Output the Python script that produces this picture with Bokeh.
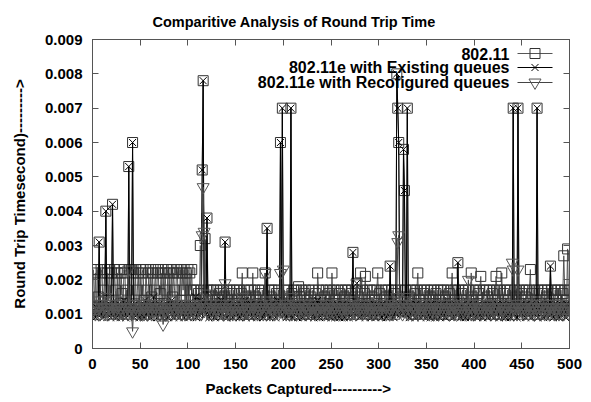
from bokeh.plotting import figure
from bokeh.models import Range1d, FixedTicker, LinearAxis, Label, Title, CustomJSTickFormatter
from bokeh.embed import file_html
from bokeh.resources import INLINE

# ---------------- data (round trip time in units of 0.1 ms) ----------------
rtt_80211_01ms = [
    23,12,22,10,23,15,31,11,23,22,12,17,23,40,11,22,14,23,10,22,42,12,23,17,11,
    22,10,23,13,22,16,11,23,22,12,17,10,53,23,11,23,60,22,13,23,10,17,22,12,23,
    11,22,23,14,10,23,17,12,22,11,23,15,22,10,17,23,12,22,23,11,16,22,10,23,13,
    22,17,11,23,12,22,10,23,15,22,17,11,23,22,12,10,23,14,22,17,23,11,22,12,23,
    10,22,17,23,12,17,11,14,17,10,16,13,30,17,52,78,12,32,15,38,17,11,13,17,10,
    15,17,12,11,17,14,10,16,17,13,11,17,15,31,12,17,10,14,17,11,16,12,17,13,10,
    17,14,11,17,12,16,22,10,17,13,15,11,17,10,14,17,12,22,11,17,15,10,13,17,12,
    16,11,17,13,10,22,14,35,11,17,12,15,17,10,13,17,11,16,12,17,14,60,13,70,12,
    17,11,15,10,17,13,12,70,16,11,17,14,10,17,12,18,15,11,17,13,10,16,17,12,14,
    11,17,10,15,12,17,13,11,16,10,22,17,12,14,11,17,10,15,13,17,12,11,16,17,10,
    22,13,17,11,14,10,17,12,16,11,17,13,10,15,17,12,11,17,14,10,16,17,28,12,11,
    17,19,10,15,13,22,12,17,11,16,21,10,17,13,12,17,11,15,10,17,14,12,17,22,11,
    16,10,17,12,13,11,17,15,10,17,12,24,13,17,11,16,10,17,80,70,60,12,17,15,11,
    58,46,17,12,70,11,15,17,10,13,17,12,16,10,17,22,11,14,17,12,10,16,17,13,11,
    17,12,10,15,17,11,13,17,10,16,12,17,14,11,17,10,13,17,12,15,11,17,10,16,13,
    17,22,11,14,17,12,10,25,17,13,11,16,17,10,12,17,14,11,17,13,10,22,15,17,12,
    11,17,13,10,16,17,21,12,14,17,11,10,17,15,12,17,13,11,16,17,10,14,21,17,12,
    10,17,13,22,11,16,17,12,10,17,14,11,17,13,10,70,12,17,15,11,70,17,13,10,16,
    17,12,11,15,17,10,13,17,23,12,16,11,17,14,10,70,17,12,13,11,17,16,10,17,12,
    15,17,11,13,24,17,10,16,12,17,14,11,17,13,10,17,12,16,27,17,11,14,29,12,17,
]
rtt_existing_01ms = [
    10,11,9,12,10,13,31,11,10,12,9,11,10,40,12,10,11,13,9,10,42,11,10,12,9,
    11,10,13,9,12,10,11,14,10,9,12,11,53,10,12,11,60,10,9,13,11,10,12,9,11,
    10,12,11,9,14,10,11,13,10,12,9,11,10,15,11,10,12,9,11,13,10,11,9,12,10,
    11,10,13,9,11,12,10,14,11,9,10,12,11,10,13,9,11,10,12,11,9,13,10,11,12,
    9,11,10,12,13,10,11,15,9,12,10,11,14,10,52,78,11,13,10,38,12,9,11,10,13,
    10,12,9,11,13,10,11,12,9,14,10,11,12,31,10,9,13,11,10,12,11,9,10,13,11,
    12,10,11,9,13,10,12,11,10,14,9,11,12,10,11,13,9,10,12,11,10,9,13,11,10,
    11,12,10,9,13,10,11,35,10,12,9,11,13,10,11,12,9,10,14,11,10,60,12,70,11,
    10,12,9,11,10,13,11,70,10,9,12,11,10,13,9,11,12,10,11,9,13,10,12,11,10,
    9,11,12,10,13,11,9,10,12,11,14,10,9,11,12,10,13,11,9,10,12,11,10,13,9,
    11,10,12,9,11,13,10,11,9,12,10,11,13,9,10,12,11,10,9,13,11,10,28,12,10,
    11,19,10,12,9,11,13,10,12,11,9,10,13,11,10,12,9,11,10,13,12,9,11,10,12,
    10,11,9,13,12,10,11,9,12,10,13,24,11,10,12,9,11,10,80,70,60,13,10,11,12,
    58,46,10,12,70,11,9,13,10,11,12,10,9,13,11,10,12,11,9,10,13,11,10,12,9,
    11,10,12,9,13,11,10,12,9,11,10,13,11,9,12,10,11,13,10,9,12,11,10,13,11,
    10,12,9,11,13,10,11,25,10,12,9,11,10,13,11,9,12,10,11,13,9,10,12,11,10,
    12,11,9,10,13,11,12,10,9,11,13,10,12,9,11,10,13,12,10,11,9,12,10,13,11,
    9,11,12,10,13,11,10,9,12,11,10,13,9,11,12,70,10,11,13,9,70,12,10,11,13,
    10,12,11,9,13,10,11,12,10,9,13,11,10,12,11,70,9,11,13,10,12,11,9,10,12,
    11,10,13,12,24,10,11,9,12,13,10,11,12,9,10,13,11,10,12,11,9,13,10,12,11,
]
rtt_reconf_01ms = [
    11,12,10,13,11,12,14,10,11,13,12,10,11,15,12,11,10,13,12,11,14,10,12,11,13,
    12,10,11,13,12,11,10,12,14,11,12,10,23,11,12,10,5,11,13,12,10,11,12,13,10,
    12,11,13,10,12,11,14,10,12,13,11,10,12,11,13,12,10,11,12,13,10,11,12,7,11,
    13,11,10,12,11,13,12,10,11,14,12,11,10,13,12,11,12,10,13,11,12,10,11,13,12,
    11,13,10,12,11,12,13,10,11,12,14,11,13,10,33,47,34,12,13,16,11,10,12,13,11,
    12,10,11,13,12,11,10,12,13,11,12,10,11,19,12,13,10,11,12,11,13,10,12,11,10,
    12,11,13,10,12,11,15,12,10,11,13,12,11,10,12,13,11,12,10,11,13,12,10,11,12,
    11,13,12,10,11,22,12,14,11,12,10,13,11,12,11,10,13,12,11,10,12,22,11,13,23,
    11,12,10,13,12,11,12,15,10,12,11,13,12,10,11,12,13,11,10,12,11,13,12,10,11,
    12,11,13,10,12,11,12,10,13,11,12,11,10,13,12,11,12,10,11,13,12,11,10,12,11,
    13,12,11,10,12,11,13,12,10,11,12,13,11,10,12,11,13,12,11,10,12,11,14,12,11,
    10,19,12,11,13,12,11,10,12,13,11,12,10,11,13,12,11,10,12,11,13,12,11,10,12,
    11,12,13,10,12,11,12,10,13,11,12,14,11,12,10,11,13,12,15,31,33,12,11,13,10,
    14,12,11,13,15,10,12,11,13,12,10,11,12,13,11,10,12,11,13,12,11,10,12,11,13,
    12,11,10,12,13,11,12,10,11,13,12,11,10,12,11,13,12,10,11,12,13,11,12,10,11,
    12,13,11,10,12,11,13,14,12,11,10,12,13,11,12,10,11,13,20,12,11,10,12,13,11,
    10,12,11,13,12,11,10,12,13,11,12,10,11,13,12,11,12,10,13,11,12,11,10,12,13,
    11,12,10,13,11,12,11,10,12,13,11,12,10,11,25,23,12,11,13,10,23,12,11,13,12,
    11,10,12,13,11,12,10,11,13,12,11,10,12,11,13,14,12,11,10,12,13,11,12,10,11,
    12,11,13,10,12,11,12,13,10,11,12,13,11,10,12,11,13,12,10,11,12,13,11,12,10,
]
series_names = ["802.11", "802.11e with Existing queues", "802.11e with Recofigured queues"]
x_ticks = [0, 50, 100, 150, 200, 250, 300, 350, 400, 450, 500]
y_ticks = [0.0, 0.001, 0.002, 0.003, 0.004, 0.005, 0.006, 0.007, 0.008, 0.009]
title_text = "Comparitive Analysis of Round Trip Time"
x_label = "Packets Captured---------->"
y_label = "Round Trip Timesecond)--------->"

s1 = [v / 10000 for v in rtt_80211_01ms]
s2 = [v / 10000 for v in rtt_existing_01ms]
s3 = [v / 10000 for v in rtt_reconf_01ms]
x1 = list(range(1, len(s1) + 1))
x2 = list(range(1, len(s2) + 1))
x3 = list(range(1, len(s3) + 1))

# ---------------- layout ----------------
W, H = 591, 402
FL, FR, FT, FB = 92, 569, 39, 348  # frame edges in page px
X0, X1, Y0, Y1 = 0, 500, 0, 0.009
FONT = "Liberation Sans"

title = Title(text=title_text, align="left", offset=60, vertical_align="bottom", standoff=20,
              text_font=FONT, text_font_style="bold", text_font_size="14.5px", text_color="black")

p = figure(width=W, height=H, output_backend="svg", toolbar_location=None, title=title,
           x_range=Range1d(X0, X1), y_range=Range1d(Y0, Y1),
           min_border_left=FL, min_border_right=W - FR,
           min_border_top=FT, min_border_bottom=H - FB)
p.background_fill_color = "white"
p.border_fill_color = "white"
p.outline_line_color = "#555555"
p.xgrid.visible = False
p.ygrid.visible = False

xax = p.xaxis[0]
yax = p.yaxis[0]


def dx(px):
    return X0 + (px - FL) / (FR - FL) * (X1 - X0)


def dy(py):
    return Y0 + (FB - py) / (FB - FT) * (Y1 - Y0)


xt = FixedTicker(ticks=x_ticks)
yt = FixedTicker(ticks=y_ticks)
xax.ticker = xt
yax.ticker = yt
yax.formatter = CustomJSTickFormatter(code="return Math.abs(tick) < 1e-9 ? '0' : tick.toFixed(3);")
xax.formatter = CustomJSTickFormatter(code="return tick.toFixed(0);")

top = LinearAxis(ticker=xt, formatter=CustomJSTickFormatter(code="return '';"))
right = LinearAxis(ticker=yt, formatter=CustomJSTickFormatter(code="return '';"))
p.add_layout(top, "above")
p.add_layout(right, "right")

for ax in [xax, yax, top, right]:
    ax.axis_line_color = "#555555"
    ax.major_tick_line_color = "#555555"
    ax.major_tick_in = 6
    ax.major_tick_out = 0
    ax.minor_tick_line_color = None
    ax.major_label_text_font = FONT
    ax.major_label_text_font_style = "bold"
    ax.major_label_text_font_size = "15px"
    ax.major_label_text_color = "black"
for ax in [top, right]:
    ax.major_label_text_font_size = "1px"
    ax.major_label_standoff = 0
yax.major_label_standoff = 10
xax.major_label_standoff = 10

yax.axis_label = y_label
yax.axis_label_standoff = 14
yax.axis_label_text_font = FONT
yax.axis_label_text_font_style = "bold"
yax.axis_label_text_font_size = "15px"
yax.axis_label_text_color = "black"

xlab = Title(text=x_label, align="left", offset=113, vertical_align="bottom", standoff=12,
             text_font=FONT, text_font_style="bold", text_font_size="15px", text_color="black")
p.add_layout(xlab, "below")

# ---------------- series ----------------
C1_LINE, C1_MARK = "#555555", "#333333"
C2_LINE, C2_MARK = "#000000", "#000000"
C3_LINE, C3_MARK = "#444444", "#555555"

p.line(x1, s1, line_color=C1_LINE, line_width=1)
p.scatter(x1, s1, marker="square", size=10, fill_color=None, line_color=C1_MARK, line_width=1)
p.line(x2, s2, line_color=C2_LINE, line_width=1)
p.scatter(x2, s2, marker="x", size=10, line_color=C2_MARK, line_width=1)
p.line(x3, s3, line_color=C3_LINE, line_width=1)
p.scatter(x3, s3, marker="inverted_triangle", size=12, fill_color=None, line_color=C3_MARK, line_width=1)

# ---------------- legend (gnuplot style: text right, sample to the right) ----------------
leg_rows = [53, 67, 82]
leg_styles = [("square", C1_LINE, C1_MARK, 10), ("x", C2_LINE, C2_MARK, 10),
              ("inverted_triangle", C3_LINE, C3_MARK, 12)]
for name, py, (mk, lc, mc, sz) in zip(series_names, leg_rows, leg_styles):
    p.add_layout(Label(x=dx(509), y=dy(py), text=name, text_align="right", text_baseline="middle",
                       text_font=FONT, text_font_style="bold", text_font_size="16px",
                       text_color="black"))
    p.line([dx(517), dx(552)], [dy(py), dy(py)], line_color=lc, line_width=1)
    p.scatter([dx(534.5)], [dy(py)], marker=mk, size=sz, fill_color=None, line_color=mc, line_width=1)

open("out.html", "w").write(file_html(p, INLINE))
